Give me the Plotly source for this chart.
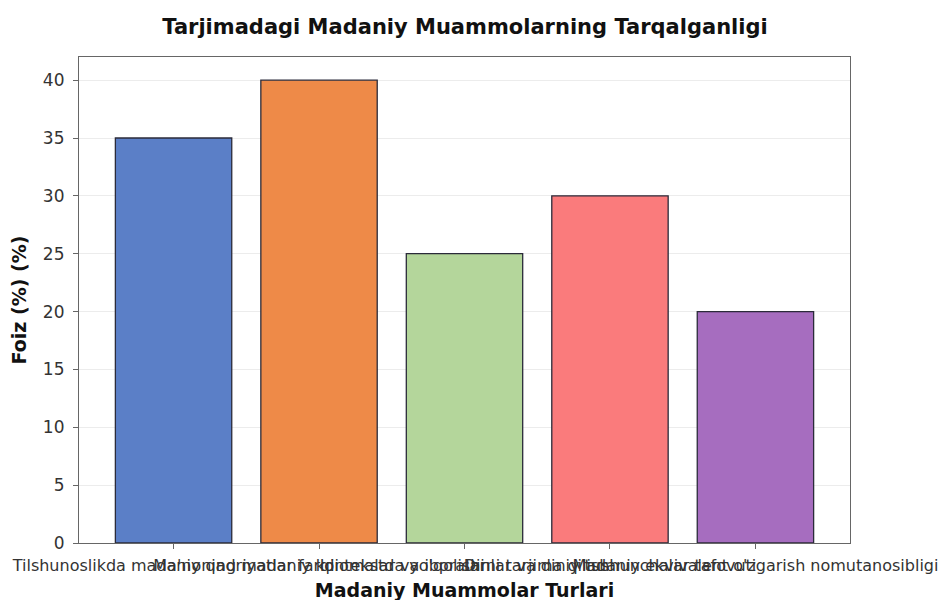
import plotly.graph_objects as go

categories = [
    "Tilshunoslikda madaniy qadriyatlar farqi",
    "Ma'noning madaniy kontekstda yo'qolishi",
    "Idiomalar va iboralarni tarjima qilish",
    "Dinlar va diniy tushunchalar tafovuti",
    "Madaniy ekvivalent o'zgarish nomutanosibligi",
]
values = [35, 40, 25, 30, 20]
colors = ["#5b7fc7", "#ee8a48", "#b4d69b", "#fa7b7c", "#a66dbf"]
y_ticks = [0, 5, 10, 15, 20, 25, 30, 35, 40]

fig = go.Figure(
    go.Bar(
        x=list(range(len(categories))),
        y=values,
        width=0.8,
        marker=dict(color=colors, line=dict(color="#2b2b3a", width=1.3)),
    )
)

font = "DejaVu Sans"
# page body has an 8px margin, so figure coords are shifted by -8
fig.update_layout(
    width=948,
    height=600,
    paper_bgcolor="white",
    plot_bgcolor="white",
    margin=dict(l=71, r=106, t=49, b=65, autoexpand=False),
    showlegend=False,
    title=dict(
        text="<b>Tarjimadagi Madaniy Muammolarning Tarqalganligi</b>",
        x=(465 - 8) / 948, xanchor="center", xref="container",
        y=1 - 19 / 600, yanchor="middle", yref="container",
        font=dict(family=font, size=21, color="#111"),
    ),
    font=dict(family=font, size=16, color="#222"),
)
fig.update_xaxes(
    tickmode="array",
    tickvals=list(range(len(categories))),
    ticktext=categories,
    tickangle=0,
    ticklabeloverflow="allow",
    ticklabelstandoff=3,
    range=[-0.65, 4.65],
    showgrid=False,
    showline=True, linecolor="#666", linewidth=1.2, mirror=True,
    ticks="outside", ticklen=5, tickcolor="#666",
    tickfont=dict(family=font, size=16, color="#333"),
    automargin=False,
    title=dict(text="<b>Madaniy Muammolar Turlari</b>", standoff=9,
               font=dict(family=font, size=19, color="#111")),
)
fig.update_yaxes(
    range=[0, 42],
    tickmode="array", tickvals=y_ticks,
    showgrid=True, gridcolor="#ececec", gridwidth=1,
    zeroline=False,
    showline=True, linecolor="#666", linewidth=1.2, mirror=True,
    ticks="outside", ticklen=5, tickcolor="#666",
    ticklabelstandoff=5,
    tickfont=dict(family=font, size=17, color="#333"),
    automargin=False,
    title=dict(text="<b>Foiz (%) (%)</b>", standoff=12,
               font=dict(family=font, size=19, color="#111")),
)

fig.write_html("out.html")
